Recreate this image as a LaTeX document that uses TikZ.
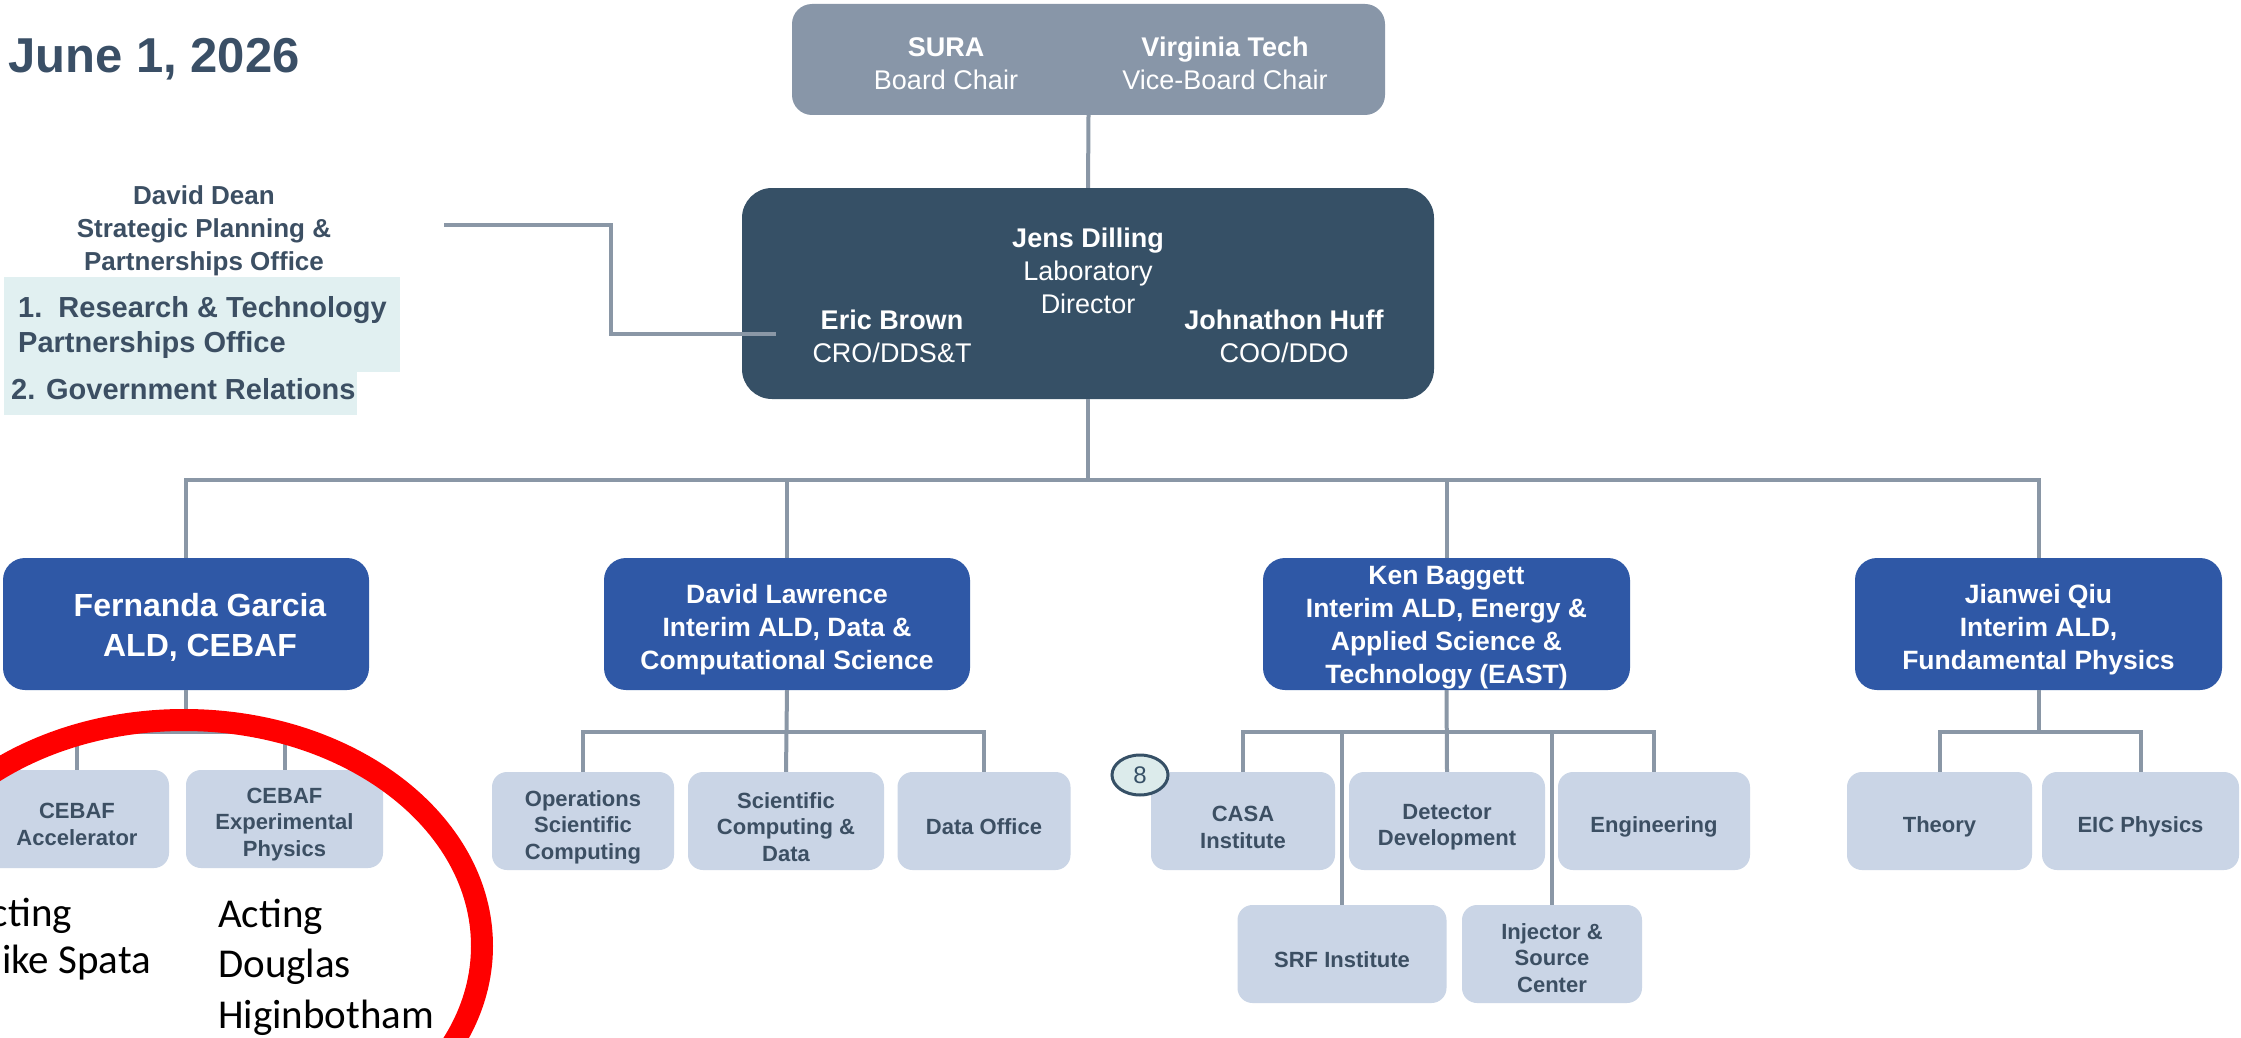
\documentclass[tikz,border=0pt]{standalone}
\usepackage{fontspec}
\setmainfont{Liberation Sans}
\newfontfamily\calib{Carlito}
\usetikzlibrary{shapes.geometric}
\newcommand\myst[1]{\rule{0pt}{#1}}
\definecolor{boardc}{RGB}{136,150,168}
\definecolor{dirc}{RGB}{54,80,102}
\definecolor{aldc}{RGB}{47,88,166}
\definecolor{subc}{RGB}{202,213,230}
\definecolor{linec}{RGB}{138,151,166}
\definecolor{txtc}{RGB}{60,79,99}
\definecolor{titlec}{RGB}{58,79,102}
\definecolor{cyanbg}{RGB}{225,240,241}
\definecolor{eightbg}{RGB}{220,235,235}
\begin{document}
\begin{tikzpicture}[x=1pt,y=-1pt,
  conn/.style={draw=linec,line width=4pt},
  aldbox/.style={fill=aldc,rounded corners=22pt,minimum width=366pt,minimum height=132pt,inner sep=0pt,text=white,align=center,font=\fontsize{26.5}{33}\selectfont\bfseries},
  subbox/.style={fill=subc,rounded corners=15pt,minimum height=98pt,inner sep=0pt,text=txtc,align=center,font=\fontsize{22}{26.5}\selectfont\bfseries},
  toptext/.style={align=center,text=white,inner sep=0pt,font=\fontsize{27}{33}\selectfont},
  lefttext/.style={anchor=base west,inner sep=0pt,text=txtc,font=\fontsize{29}{35}\selectfont\bfseries},
  annot/.style={anchor=base west,inner sep=0pt,text=black,font=\calib\fontsize{41}{50}\selectfont}
]
\useasboundingbox (0,0) rectangle (2241,1038);
\fill[white] (0,0) rectangle (2241,1038);
\clip (0,0) rectangle (2241,1038);

% title
\node[anchor=base west,inner sep=0pt,text=titlec,font=\fontsize{49}{49}\selectfont\bfseries] (title) at (8,73) {June 1, 2026};

% strategic planning
\node[align=center,inner sep=0pt,text=txtc,font=\fontsize{26}{33}\selectfont\bfseries] (dd) at (204,231) {David Dean\\Strategic Planning \&\\Partnerships Office};
\fill[cyanbg] (4,277) rectangle (400,372);
\fill[cyanbg] (4,371) rectangle (357,415);
\node[lefttext] (rt1) at (18,317) {1.\ \ Research \& Technology};
\node[lefttext] (rt2) at (18,352) {Partnerships Office};
\node[lefttext] (gr) at (11,399) {2. Government Relations};

% board
\node[fill=boardc,rounded corners=20pt,minimum width=593pt,minimum height=111pt,inner sep=0pt] (board) at (1088.5,59.5) {};
\node[toptext] (sura) at (946,63.5) {\textbf{SURA}\\Board Chair};
\node[toptext] (vt) at (1225,63.5) {\textbf{Virginia Tech}\\Vice-Board Chair};

% director
\node[fill=dirc,rounded corners=30pt,minimum width=692pt,minimum height=211pt,inner sep=0pt] (dir) at (1088,293.5) {};
\node[toptext] (jd) at (1088,271) {\textbf{Jens Dilling}\\Laboratory\\Director};
\node[toptext] (eb) at (892,336.5) {\textbf{Eric Brown}\\CRO/DDS\&T};
\node[toptext] (jh) at (1284,336.5) {\textbf{Johnathon Huff}\\COO/DDO};

% ALD boxes
\node[aldbox,font=\fontsize{32}{40}\selectfont\bfseries] (fg) at (186,624) {\myst{29.5pt}\hspace*{28pt}Fernanda Garcia\\\hspace*{28pt}ALD, CEBAF};
\node[aldbox] (dl) at (787,624) {\myst{31pt}David Lawrence\\Interim ALD, Data \&\\Computational Science};
\node[aldbox,minimum width=367pt] (kb) at (1446.5,624) {\myst{26.5pt}Ken Baggett\\Interim ALD, Energy \&\\Applied Science \&\\Technology (EAST)};
\node[aldbox,minimum width=367pt] (jq) at (2038.5,624) {\myst{31pt}Jianwei Qiu\\Interim ALD,\\Fundamental Physics};

% sub boxes
\node[subbox,minimum width=184pt] (acc) at (77,819) {\myst{26pt}CEBAF\\Accelerator};
\node[subbox,minimum width=197pt] (exp) at (284.5,819) {\myst{26pt}CEBAF\\Experimental\\Physics};
\node[subbox,minimum width=182pt] (ops) at (583,821) {\myst{28pt}Operations\\Scientific\\Computing};
\node[subbox,minimum width=196pt] (scd) at (786,821) {\myst{28pt}Scientific\\Computing \&\\Data};
\node[subbox,minimum width=173pt] (data) at (984,821) {\myst{28pt}Data Office};
\node[subbox,minimum width=184pt] (casa) at (1243,821) {\myst{28pt}CASA\\Institute};
\node[subbox,minimum width=196pt] (det) at (1447,821) {\myst{28pt}Detector\\Development};
\node[subbox,minimum width=192pt] (eng) at (1654,821) {\myst{28pt}Engineering};
\node[subbox,minimum width=209pt] (srf) at (1342,954) {\myst{28pt}SRF Institute};
\node[subbox,minimum width=180pt] (inj) at (1552,954) {\myst{24pt}Injector \&\\Source\\Center};
\node[subbox,minimum width=185pt] (th) at (1939.5,821) {\myst{28pt}Theory};
\node[subbox,minimum width=197pt] (eic) at (2140.5,821) {\myst{28pt}EIC Physics};

% connectors
\coordinate (ddl) at (444,225);
\coordinate (dirin) at (776,334);
\draw[conn,line width=3.5pt] (ddl) -- (611,225) |- (dirin);
\draw[conn] (board.south) -- (dir.north);
\coordinate (bar) at (1088,480);
\draw[conn] (dir.south) -- (bar);
\draw[conn] (fg.north) |- (bar) -| (jq.north);
\draw[conn] (dl.north) -- (dl.north |- bar);
\draw[conn] (kb.north) -- (kb.north |- bar);

\coordinate (fgbar) at (186,732);
\draw[conn] (fg.south) -- (fgbar);
\draw[conn] (acc.north) |- (fgbar) -| (exp.north);

\coordinate (dlbar) at (787,732);
\draw[conn] (ops.north) |- (dlbar) -| (data.north);
\draw[conn] (dl.south) -- (scd.north);

\coordinate (kbbar) at (1446.5,732);
\draw[conn] (casa.north) |- (kbbar) -| (eng.north);
\draw[conn] (kb.south) -- (det.north);
\draw[conn] (srf.north) -- (srf.north |- kbbar);
\draw[conn] (inj.north) -- (inj.north |- kbbar);

\coordinate (jqbar) at (2038.5,732);
\draw[conn] (th.north) |- (jqbar) -| (eic.north);
\draw[conn] (jq.south) -- (jqbar);

% badge
\node[ellipse,draw=dirc,line width=3pt,fill=eightbg,minimum width=56pt,minimum height=40pt,inner sep=0pt,text=dirc,font=\fontsize{24}{24}\selectfont] (eight) at (1140,775) {8};

% annotation
\node[annot] (a1) at (-33,926) {Acting};
\node[annot] (a2) at (-33,973) {Mike Spata};
\node[annot] (b1) at (218,927) {Acting};
\node[annot] (b2) at (218,977) {Douglas};
\node[annot] (b3) at (218,1028) {Higinbotham};
\draw[red,line width=22pt] (184,946) ellipse [x radius=298pt, y radius=226pt];
\end{tikzpicture}
\end{document}
